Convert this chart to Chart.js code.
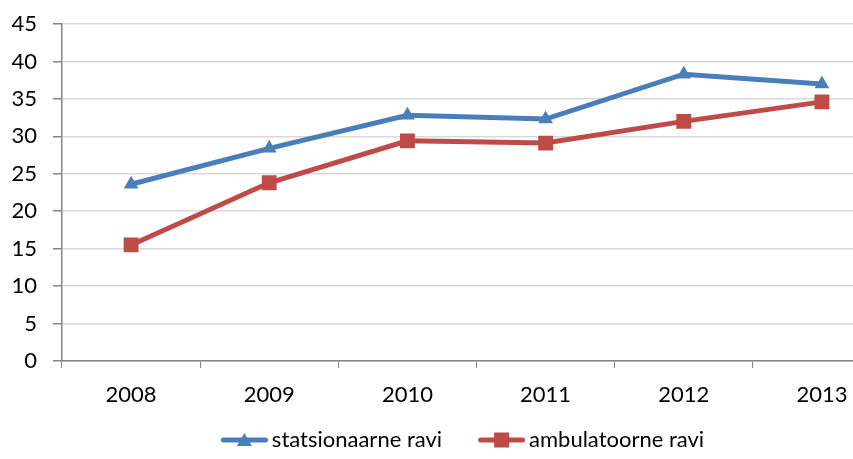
<!DOCTYPE html>
<html>
<head>
<meta charset="utf-8">
<script src="https://cdn.jsdelivr.net/npm/chart.js@4/dist/chart.umd.min.js"></script>
<style>
  html, body { margin: 0; padding: 0; background: #fff; overflow: hidden; }
  /* the original is cropped on the right: the canvas is wider than the window */
  #wrap { width: 853px; height: 459px; overflow: hidden; }
</style>
</head>
<body>
<div id="wrap"><canvas id="c" width="891" height="459"></canvas></div>
<script>
// data
const years         = ['2008', '2009', '2010', '2011', '2012', '2013'];
const statsionaarne = [23.6, 28.4, 32.8, 32.3, 38.3, 37.0];
const ambulatoorne  = [15.5, 23.8, 29.4, 29.1, 32.0, 34.6];
const yTicks        = [0, 5, 10, 15, 20, 25, 30, 35, 40, 45];

const BLUE = '#4a7ebb';
const RED  = '#be4b48';
const FONT = "Lato, 'Open Sans', sans-serif";

// legend icon image (88px wide, centred on the 74px legend box):
// line with the series marker from box x+34 to x+81
function legendIcon(color, shape) {
  const cv = document.createElement('canvas');
  cv.width = 88; cv.height = 20;
  const g = cv.getContext('2d');
  const x0 = 41, x1 = 88;
  g.strokeStyle = color; g.lineWidth = 5; g.lineCap = 'round';
  g.beginPath(); g.moveTo(x0 + 2.5, 10); g.lineTo(x1 - 2.5, 10); g.stroke();
  g.fillStyle = color;
  const cx = (x0 + x1) / 2;
  if (shape === 'triangle') {
    g.beginPath(); g.moveTo(cx, 3); g.lineTo(cx + 7.5, 16); g.lineTo(cx - 7.5, 16); g.closePath(); g.fill();
  } else {
    g.fillRect(cx - 7.5, 2.5, 15, 15);
  }
  return cv;
}

new Chart(document.getElementById('c'), {
  type: 'line',
  data: {
    labels: years,
    datasets: [
      {
        label: 'statsionaarne ravi',
        data: statsionaarne,
        borderColor: BLUE, backgroundColor: BLUE,
        borderWidth: 5, pointStyle: 'triangle', pointRadius: 8.5,
        pointBorderWidth: 0, tension: 0,
        legendIcon: legendIcon(BLUE, 'triangle'),
      },
      {
        label: 'ambulatoorne ravi',
        data: ambulatoorne,
        borderColor: RED, backgroundColor: RED,
        borderWidth: 5, pointStyle: 'rect', pointRadius: 10.5,
        pointBorderWidth: 0, tension: 0,
        legendIcon: legendIcon(RED, 'rect'),
      },
    ],
  },
  options: {
    responsive: false, animation: false,
    layout: { autoPadding: false, padding: { top: 24, right: 0, left: 0, bottom: -2 } },
    plugins: {
      tooltip: { enabled: false },
      legend: {
        position: 'bottom',
        labels: {
          color: '#000', font: { family: FONT, size: 22 },
          usePointStyle: true, pointStyleWidth: 74, padding: 2,
          generateLabels: ch => ch.data.datasets.map((ds, i) => ({
            text: ds.label, pointStyle: ds.legendIcon, datasetIndex: i,
            fontColor: '#000', lineWidth: 0, strokeStyle: 'transparent', fillStyle: ds.borderColor,
          })),
        },
      },
    },
    scales: {
      x: {
        offset: true,
        afterFit: s => { s.height = 66; s.paddingLeft = 0; s.paddingRight = 0; },
        grid: { offset: true, drawOnChartArea: false, color: '#868686', tickLength: 7, lineWidth: 1 },
        border: { color: '#868686', width: 1.5 },
        ticks: { color: '#000', font: { family: FONT, size: 22 }, padding: 14, maxRotation: 0 },
      },
      y: {
        min: 0, max: 45,
        afterFit: s => { s.width = 62; s.paddingTop = 0; s.paddingBottom = 0; },
        afterBuildTicks: s => { s.ticks = yTicks.map(v => ({ value: v })); },
        grid: { color: '#d9d9d9', lineWidth: 1.5, tickColor: '#868686', tickLength: 9 },
        border: { color: '#868686', width: 1.5 },
        ticks: { color: '#000', font: { family: FONT, size: 22 }, padding: 16 },
      },
    },
  },
});
</script>
</body>
</html>
